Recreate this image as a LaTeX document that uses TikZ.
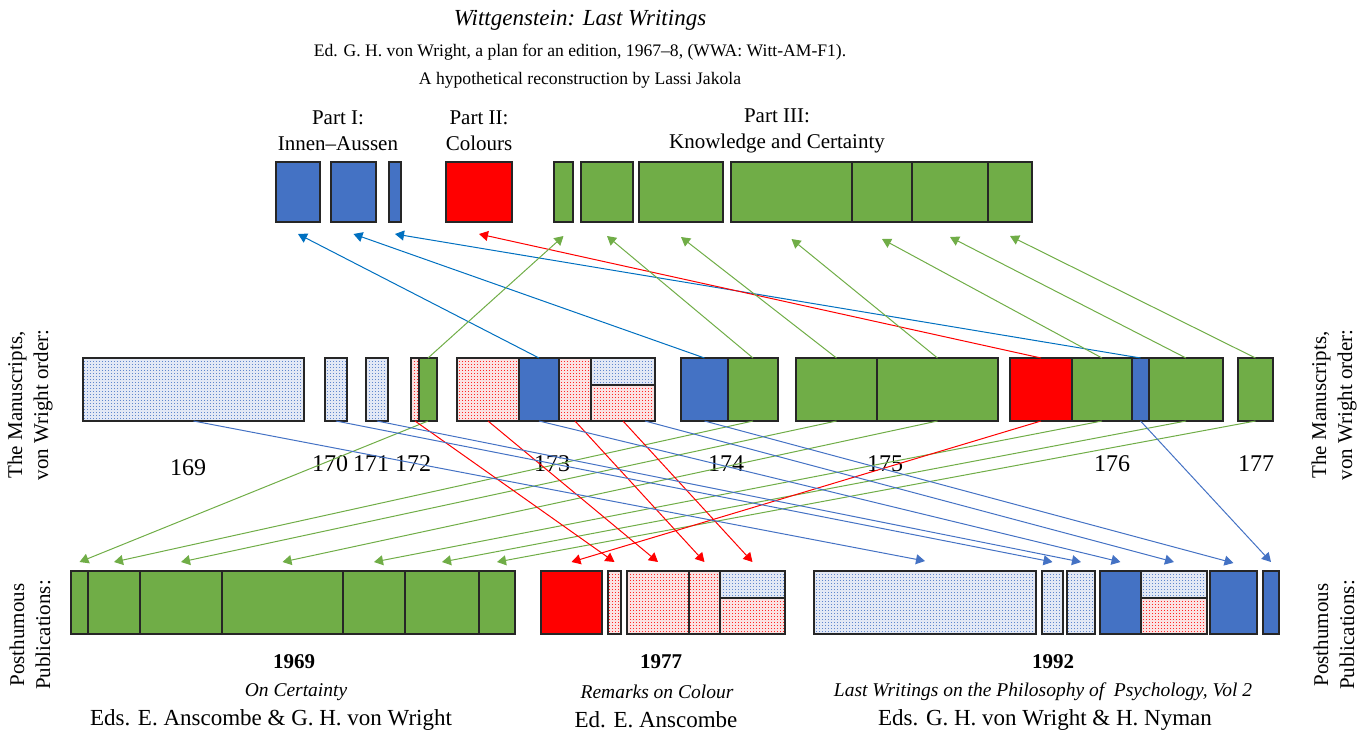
\documentclass[tikz,border=0pt]{standalone}
\usepackage{fontspec}
\setmainfont{Liberation Serif}
\usetikzlibrary{positioning,arrows.meta,patterns}
\definecolor{msblue}{HTML}{4472C4}
\definecolor{msgreen}{HTML}{70AD47}
\definecolor{msred}{HTML}{FF0000}
\definecolor{arblue}{HTML}{0070C0}
\definecolor{paleblue}{HTML}{E2E8F5}
\definecolor{palered}{HTML}{FBE2E2}
% small square dots, 3pt apart
\pgfdeclarepatternformonly{msdots}{\pgfpointorigin}{\pgfqpoint{3pt}{3pt}}{\pgfqpoint{3pt}{3pt}}%
{\pgfpathrectangle{\pgfpointorigin}{\pgfqpoint{1.1pt}{1.1pt}}\pgfusepath{fill}}
\tikzset{%
seg/.style={draw=black!85,line width=1.3pt,inner sep=0,outer sep=0,anchor=north west},
bluebox/.style={seg,fill=msblue},
greenbox/.style={seg,fill=msgreen},
redbox/.style={seg,fill=msred},
bluedots/.style={seg,preaction={fill=paleblue},pattern=msdots,pattern color=msblue!85},
reddots/.style={seg,preaction={fill=palered},pattern=msdots,pattern color=msred!85},
uparr/.style={-{Triangle[length=9pt,width=10pt]},line width=1pt},
downarr/.style={-{Triangle[length=9pt,width=10pt]},line width=1pt},
txt/.style={font=\fontsize{21}{26}\selectfont,align=center,inner sep=0},
itxt/.style={font=\fontsize{19.5}{24}\selectfont\itshape,align=center,inner sep=0},
edtxt/.style={font=\fontsize{23}{26}\selectfont,inner sep=0},
head/.style={font=\fontsize{17.6}{22}\selectfont,inner sep=0},
num/.style={font=\fontsize{24}{28}\selectfont,inner sep=0}
}
% one box of a row: name, x1, y1, x2, y2, style
\newcommand{\piece}[6]{\node[#6,minimum width={(#4-#2)*1pt},minimum height={(#5-#3)*1pt}] (#1) at (#2,#3) {};}

\begin{document}
\begin{tikzpicture}[x=1pt,y=-1pt]
  \useasboundingbox (0,0) rectangle (1365,731);

  % titles
  \node[itxt,font=\fontsize{23}{26}\selectfont\itshape] (title) at (580,20) {Wittgenstein: Last Writings};
  \node[head] (sub1) at (580,52) {Ed. G. H. von Wright, a plan for an edition, 1967--8, (WWA: Witt-AM-F1).};
  \node[head] (sub2) at (580,80) {A hypothetical reconstruction by Lassi Jakola};

  \node[txt] (part1) at (338,131) {Part I:\\Innen--Aussen};
  \node[txt] (part2) at (479,131) {Part II:\\Colours};
  \node[txt] (part3) at (777,131) {Part III:\\Knowledge and Certainty};

  % plan of the edition
  \piece{t1}{276}{162}{320}{222}{bluebox}
  \piece{t2}{331}{162}{376}{222}{bluebox}
  \piece{t3}{389}{162}{401}{222}{bluebox}
  \piece{t4}{446}{162}{512}{222}{redbox}
  \piece{g1}{554}{162}{573}{222}{greenbox}
  \piece{g2}{581}{162}{633}{222}{greenbox}
  \piece{g3}{639}{162}{723}{222}{greenbox}
  \piece{g4}{731}{162}{852}{222}{greenbox}
  \piece{g5}{852}{162}{912}{222}{greenbox}
  \piece{g6}{912}{162}{988}{222}{greenbox}
  \piece{g7}{988}{162}{1032}{222}{greenbox}

  % manuscripts
  \piece{m169}{83}{358}{304}{421}{bluedots}
  \piece{m170}{325}{358}{347}{421}{bluedots}
  \piece{m171}{366}{358}{388}{421}{bluedots}
  \piece{m172r}{411}{358}{419}{421}{reddots}
  \piece{m172g}{419}{358}{437}{421}{greenbox}
  \piece{m173a}{457}{358}{519}{421}{reddots}
  \piece{m173b}{519}{358}{559}{421}{bluebox}
  \piece{m173c}{559}{358}{591}{421}{reddots}
  \piece{m173d}{591}{358}{655}{385}{bluedots}
  \piece{m173e}{591}{385}{655}{421}{reddots}
  \piece{m174a}{681}{358}{728}{421}{bluebox}
  \piece{m174b}{728}{358}{778}{421}{greenbox}
  \piece{m175a}{796}{358}{877}{421}{greenbox}
  \piece{m175b}{877}{358}{998}{421}{greenbox}
  \piece{m176a}{1010}{358}{1072}{421}{redbox}
  \piece{m176b}{1072}{358}{1132}{421}{greenbox}
  \piece{m176c}{1132}{358}{1149}{421}{bluebox}
  \piece{m176d}{1149}{358}{1223}{421}{greenbox}
  \piece{m177}{1238}{358}{1273}{421}{greenbox}

  \node[num] (n169) at (188,468) {169};
  \node[num] (n170) at (330,464) {170};
  \node[num] (n171) at (371,464) {171};
  \node[num] (n172) at (413,464) {172};
  \node[num] (n173) at (552,464) {173};
  \node[num] (n174) at (726,464) {174};
  \node[num] (n175) at (885,464) {175};
  \node[num] (n176) at (1112,464) {176};
  \node[num] (n177) at (1256,464) {177};

  % publications
  \piece{p1}{71}{571}{88}{634}{greenbox}
  \piece{p2}{88}{571}{140}{634}{greenbox}
  \piece{p3}{140}{571}{222}{634}{greenbox}
  \piece{p4}{222}{571}{343}{634}{greenbox}
  \piece{p5}{343}{571}{405}{634}{greenbox}
  \piece{p6}{405}{571}{479}{634}{greenbox}
  \piece{p7}{479}{571}{515}{634}{greenbox}
  \piece{q1}{541}{571}{602}{634}{redbox}
  \piece{q2}{608}{571}{621}{634}{reddots}
  \piece{q3}{627}{571}{689}{634}{reddots}
  \piece{q4}{689}{571}{720}{634}{reddots}
  \piece{q5}{720}{571}{785}{598}{bluedots}
  \piece{q6}{720}{598}{785}{634}{reddots}
  \piece{r1}{814}{571}{1036}{634}{bluedots}
  \piece{r2}{1042}{571}{1063}{634}{bluedots}
  \piece{r3}{1067}{571}{1095}{634}{bluedots}
  \piece{r4}{1100}{571}{1141}{634}{bluebox}
  \piece{r5}{1141}{571}{1207}{598}{bluedots}
  \piece{r6}{1141}{598}{1207}{634}{reddots}
  \piece{r7}{1210}{571}{1257}{634}{bluebox}
  \piece{r8}{1263}{571}{1279}{634}{bluebox}

  \node[txt] (y1969) at (294,662) {\textbf{1969}};
  \node[itxt] (oc) at (296,692) {On Certainty};
  \node[edtxt] (ed1969) at (271,720) {Eds. E. Anscombe \& G. H. von Wright};
  \node[txt] (y1977) at (661,662) {\textbf{1977}};
  \node[itxt] (roc) at (657,692) {Remarks on Colour};
  \node[edtxt] (ed1977) at (656,720) {Ed. E. Anscombe};
  \node[txt] (y1992) at (1053,662) {\textbf{1992}};
  \node[itxt] (lw) at (1043,692) {Last Writings on the Philosophy of\ \ Psychology, Vol 2};
  \node[edtxt] (ed1992) at (1045,720) {Eds. G. H. von Wright \& H. Nyman};

  % side labels
  \node[txt,rotate=90] (msl) at (30,405) {The Manuscripts,\\von Wright order:};
  \node[txt,rotate=90] (msr) at (1334,405) {The Manuscripts,\\von Wright order:};
  \node[txt,rotate=90] (pbl) at (30,635) {Posthumous\\Publications:};
  \node[txt,rotate=90] (pbr) at (1334,635) {Posthumous\\Publications:};

  % manuscripts -> plan
  \draw[uparr,arblue] (m173b.north) -- ([yshift=-12pt]t1.south);
  \draw[uparr,arblue] (m174a.north) -- ([yshift=-12pt]t2.south);
  \draw[uparr,arblue] (m176c.north) -- ([yshift=-12pt]t3.south);
  \draw[uparr,msred] (m176a.north) -- ([yshift=-12pt]t4.south);
  \draw[uparr,msgreen] (m172g.north) -- ([yshift=-14pt]g1.south);
  \draw[uparr,msgreen] (m174b.north) -- ([yshift=-14pt]g2.south);
  \draw[uparr,msgreen] (m175a.north) -- ([yshift=-15pt]g3.south);
  \draw[uparr,msgreen] (m175b.north) -- ([yshift=-17pt]g4.south);
  \draw[uparr,msgreen] (m176b.north) -- ([yshift=-17pt]g5.south);
  \draw[uparr,msgreen] (m176d.north) -- ([yshift=-15pt]g6.south);
  \draw[uparr,msgreen] (m177.north) -- ([yshift=-14pt]g7.south);

  % manuscripts -> publications
  \draw[downarr,msgreen] (m172g.south) -- ([yshift=9pt]p1.north);
  \draw[downarr,msgreen] (m174b.south) -- ([yshift=9pt]p2.north);
  \draw[downarr,msgreen] (m175a.south) -- ([yshift=9pt]p3.north);
  \draw[downarr,msgreen] (m175b.south) -- ([yshift=9pt]p4.north);
  \draw[downarr,msgreen] (m176b.south) -- ([yshift=9pt]p5.north);
  \draw[downarr,msgreen] (m176d.south) -- ([yshift=9pt]p6.north);
  \draw[downarr,msgreen] (m177.south) -- ([yshift=9pt]p7.north);
  \draw[downarr,msred] (m176a.south) -- ([yshift=9pt]q1.north);
  \draw[downarr,msred] (m172r.south) -- ([yshift=9pt]q2.north);
  \draw[downarr,msred] (m173a.south) -- ([yshift=9pt]q3.north);
  \draw[downarr,msred] (m173c.south) -- ([yshift=9pt]q4.north);
  \draw[downarr,msred] (m173e.south) -- ([yshift=9pt]q5.north);
  \draw[downarr,msblue] (m169.south) -- ([yshift=10pt]r1.north);
  \draw[downarr,msblue] (m170.south) -- ([yshift=9pt]r2.north);
  \draw[downarr,msblue] (m171.south) -- ([yshift=9pt]r3.north);
  \draw[downarr,msblue] (m173b.south) -- ([yshift=9pt]r4.north);
  \draw[downarr,msblue] ([xshift=-10pt]m173e.south east) -- ([yshift=9pt]r5.north);
  \draw[downarr,msblue] (m174a.south) -- ([yshift=8pt]r7.north);
  \draw[downarr,msblue] (m176c.south) -- ([yshift=9pt]r8.north);
\end{tikzpicture}
\end{document}
